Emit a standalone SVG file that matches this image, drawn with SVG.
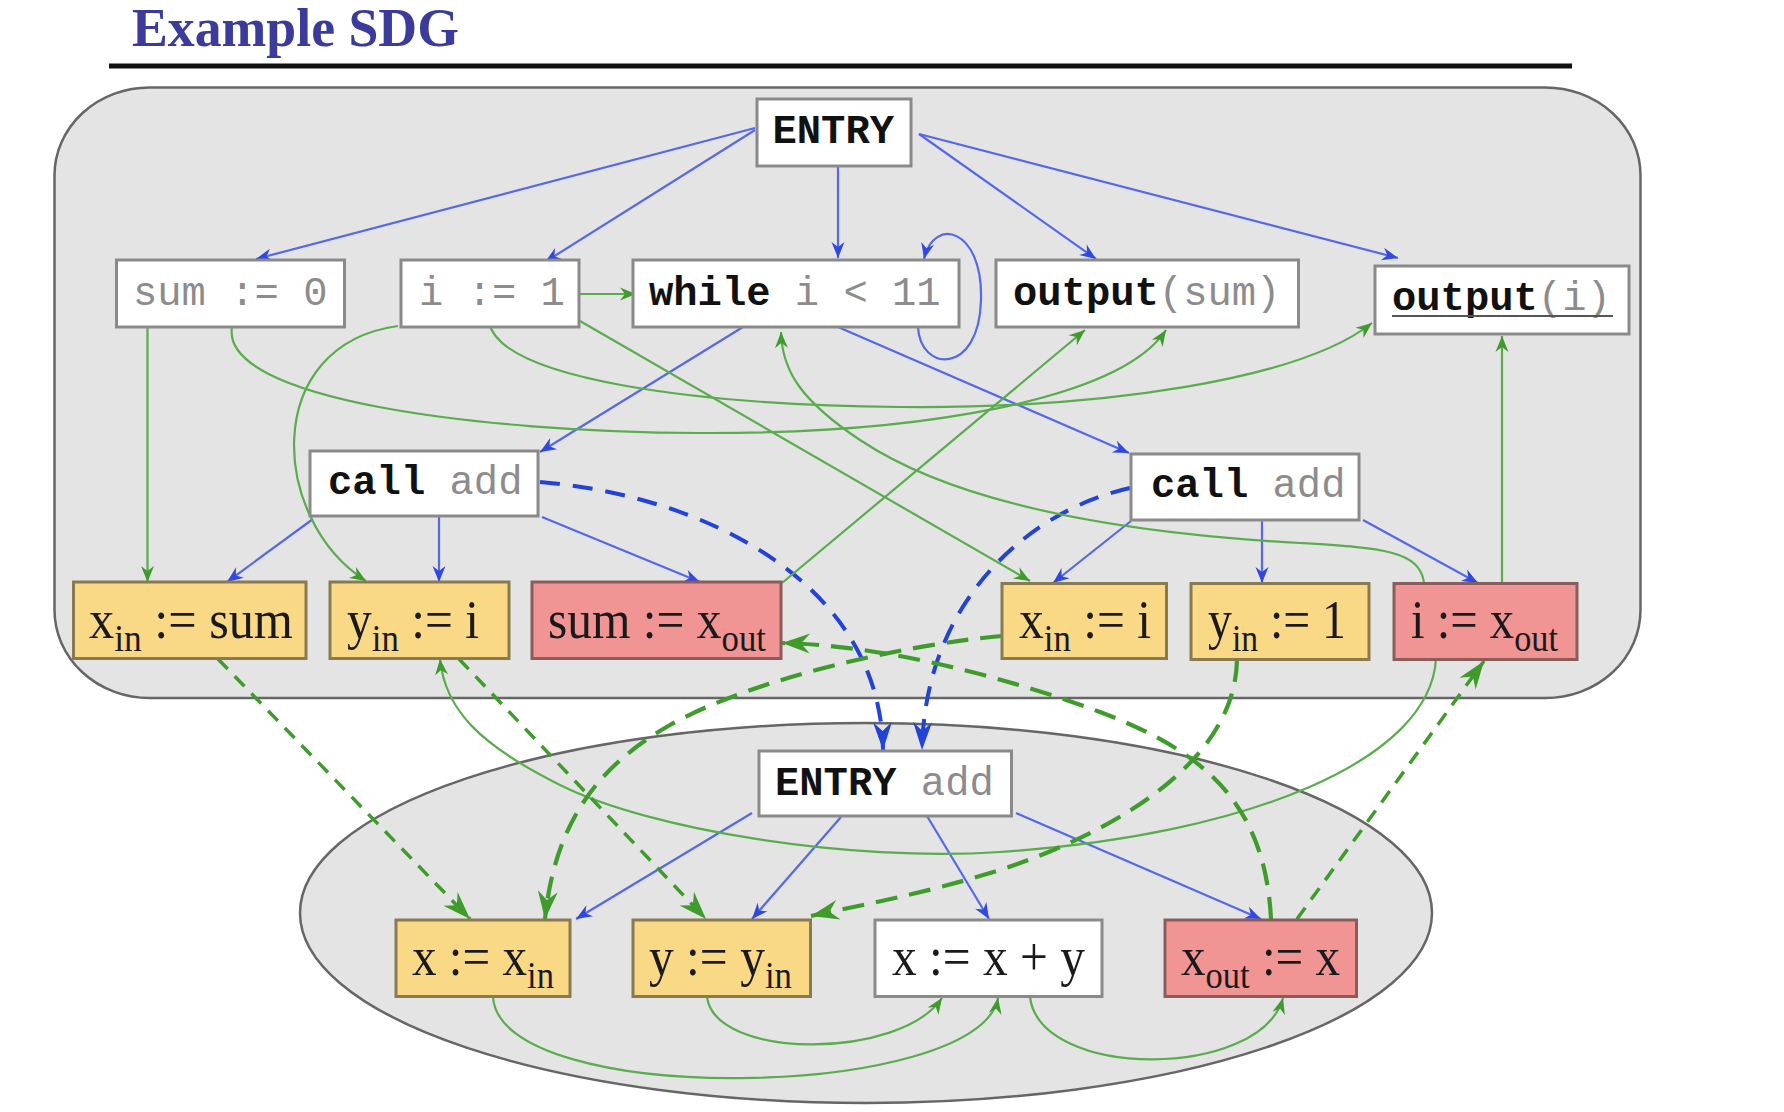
<svg xmlns="http://www.w3.org/2000/svg" width="1784" height="1112" viewBox="0 0 1784 1112">
<style>
.box{fill:#fff;stroke:#8a8a8a;stroke-width:3}
.yb{fill:#f9d886;stroke:#8a7a50;stroke-width:3}
.rb{fill:#f09494;stroke:#8a5c5c;stroke-width:3}
.mono{font-family:"Liberation Mono",monospace;font-size:40.5px}
.kw{font-weight:bold;fill:#111}
.g{fill:#8c8c8c}
.ser{font-family:"Liberation Serif","Times New Roman",serif;font-size:54px;fill:#1a1a1a}
.cb{fill:none;stroke:#5468ee;stroke-width:2.2;marker-end:url(#mb)}
.cd{fill:none;stroke:#2243d8;stroke-width:4;stroke-dasharray:20 13;marker-end:url(#mbB)}
.dg{fill:none;stroke:#5aac4e;stroke-width:2.2;marker-end:url(#mg)}
.pd{fill:none;stroke:#3f9c2c;stroke-width:3.5;stroke-dasharray:14 10;marker-end:url(#mgB)}
.pd2{fill:none;stroke:#3f9c2c;stroke-width:4.2;stroke-dasharray:22 12;marker-end:url(#mgB)}
</style>
<defs>
<marker id="mb" viewBox="-17 -8 18 16" refX="0" refY="0" markerWidth="18" markerHeight="16" markerUnits="userSpaceOnUse" orient="auto"><path d="M0,0 L-16,-6.5 L-11,0 L-16,6.5 Z" fill="#2f48e4"/></marker>
<marker id="mg" viewBox="-17 -8 18 16" refX="0" refY="0" markerWidth="18" markerHeight="16" markerUnits="userSpaceOnUse" orient="auto"><path d="M0,0 L-16,-6.5 L-11,0 L-16,6.5 Z" fill="#3f9c2c"/></marker>
<marker id="mbB" viewBox="-30 -11 31 22" refX="0" refY="0" markerWidth="31" markerHeight="22" markerUnits="userSpaceOnUse" orient="auto"><path d="M0,0 L-28,-9.5 L-19,0 L-28,9.5 Z" fill="#2243d8"/></marker>
<marker id="mgB" viewBox="-30 -11 31 22" refX="0" refY="0" markerWidth="31" markerHeight="22" markerUnits="userSpaceOnUse" orient="auto"><path d="M0,0 L-28,-10 L-19,0 L-28,10 Z" fill="#3f9c2c"/></marker>
</defs>
<rect width="1784" height="1112" fill="#fff"/>
<g id="title">
<text x="132" y="46" font-family="Liberation Serif,'Times New Roman',serif" font-weight="bold" font-size="54" fill="#3b3b9c" textLength="327" lengthAdjust="spacingAndGlyphs">Example SDG</text>
<line x1="109" y1="66" x2="1572" y2="66" stroke="#111" stroke-width="5"/>
</g>
<g id="regions">
<ellipse cx="866" cy="913" rx="566" ry="190" fill="#e4e4e4" stroke="#666" stroke-width="2.5"/>
<rect x="54.5" y="87.5" width="1586" height="610.5" rx="95" ry="88" fill="#e4e4e4" stroke="#666" stroke-width="2.5"/>
</g>
<g id="connectors">
<path class="cb" d="M755,128 L256,259"/>
<path class="cb" d="M755,130 L545,262"/>
<path class="cb" d="M838,166 L838,258"/>
<path class="cb" d="M919,134 L1096,259"/>
<path class="cb" d="M919,134 L1398,258"/>
<path class="cb" d="M743,327 L540,452"/>
<path class="cb" d="M838,327 L1129,453"/>
<path class="cb" d="M918,327 C920,372 979,376 981,300 C983,228 934,216 924,259"/>
<path class="cb" d="M313,519 L227,582"/>
<path class="cb" d="M439,516 L439,582"/>
<path class="cb" d="M542,517 L700,582"/>
<path class="cb" d="M1131,521 L1053,583"/>
<path class="cb" d="M1262,520 L1262,583"/>
<path class="cb" d="M1363,520 L1478,583"/>
<path class="cb" d="M752,813 L576,919"/>
<path class="cb" d="M841,817 L752,919"/>
<path class="cb" d="M927,816 L989,919"/>
<path class="cb" d="M1016,813 L1261,919"/>
<path class="cd" d="M540,482 C700,495 880,580 883,750"/>
<path class="cd" d="M1130,488 C1030,510 925,600 922,750"/>
<path class="dg" d="M147.5,327 L147.5,582"/>
<path class="dg" d="M232,327 C220,400 480,432 700,433 S1120,400 1166,330"/>
<path class="dg" d="M489,322 C500,380 700,405 900,407 S1300,380 1372,323"/>
<path class="dg" d="M398,326 C260,345 270,520 366,581"/>
<path class="dg" d="M580,321 L1030,581"/>
<path class="dg" d="M579,294 L636,294"/>
<path class="dg" d="M1424,583 C1420,550 1380,548 1300,543 C1100,532 950,500 860,440 C800,400 782,370 781,332"/>
<path class="dg" d="M782,583 L1085,330"/>
<path class="dg" d="M1502,583 L1502,336"/>
<path class="dg" d="M1436,659 C1430,760 1250,835 1000,852 C850,862 650,830 560,785 C480,745 445,710 440,659"/>
<path class="dg" d="M493,997 C500,1110 980,1100 998,998"/>
<path class="dg" d="M707,997 C715,1060 900,1060 942,998"/>
<path class="dg" d="M1030,997 C1040,1080 1260,1080 1283,998"/>
<path class="pd" d="M218,659 L470,919"/>
<path class="pd" d="M459,659 L706,919"/>
<path class="pd2" d="M1002,636 C900,645 750,680 670,725 C600,765 555,820 545,919"/>
<path class="pd2" d="M1237,660 C1235,760 1120,830 1000,870 C920,895 860,905 811,916"/>
<path class="pd2" d="M1271,919 C1265,800 1200,750 1100,712 C1000,675 880,645 782,643"/>
<path class="pd" d="M1297,919 L1484,661"/>
</g>
<g id="n-entry"><rect class="box" x="757" y="99" width="154" height="67"/><text class="mono kw" x="772.5" y="143">ENTRY</text></g>
<g id="n-sum0"><rect class="box" x="116.5" y="260" width="228" height="67"/><text class="mono g" x="133" y="305">sum := 0</text></g>
<g id="n-i1"><rect class="box" x="401" y="260" width="178" height="67"/><text class="mono g" x="419" y="305">i := 1</text></g>
<g id="n-while"><rect class="box" x="633" y="260" width="326" height="67"/><text class="mono" x="649" y="305"><tspan class="kw">while</tspan><tspan class="g"> i &lt; 11</tspan></text></g>
<g id="n-outsum"><rect class="box" x="996" y="260" width="302.5" height="67"/><text class="mono" x="1013" y="305"><tspan class="kw">output</tspan><tspan class="g">(sum)</tspan></text></g>
<g id="n-outi"><rect class="box" x="1375" y="266" width="254" height="68"/><text class="mono" x="1392" y="310"><tspan class="kw">output</tspan><tspan class="g">(i)</tspan></text><line x1="1392" y1="316" x2="1613" y2="316" stroke="#555" stroke-width="2"/></g>
<g id="n-call1"><rect class="box" x="310" y="451" width="228" height="65"/><text class="mono" x="328" y="494"><tspan class="kw">call</tspan><tspan class="g"> add</tspan></text></g>
<g id="n-call2"><rect class="box" x="1131" y="454" width="228" height="66"/><text class="mono" x="1151" y="497"><tspan class="kw">call</tspan><tspan class="g"> add</tspan></text></g>
<g id="n-xin-sum"><rect class="yb" x="73.5" y="582" width="232.5" height="76.5"/><text class="ser" x="89" y="637.5" textLength="204" lengthAdjust="spacingAndGlyphs">x<tspan font-size="38" dy="13">in</tspan><tspan dy="-13"> := sum</tspan></text></g>
<g id="n-yin-i"><rect class="yb" x="330" y="582" width="179" height="76.5"/><text class="ser" x="347" y="637.5" textLength="132" lengthAdjust="spacingAndGlyphs">y<tspan font-size="38" dy="13">in</tspan><tspan dy="-13"> := i</tspan></text></g>
<g id="n-sum-xout"><rect class="rb" x="532" y="582" width="249" height="76.5"/><text class="ser" x="548" y="637.5" textLength="218" lengthAdjust="spacingAndGlyphs">sum := x<tspan font-size="38" dy="13">out</tspan></text></g>
<g id="n-xin-i"><rect class="yb" x="1002" y="583.5" width="164.5" height="75"/><text class="ser" x="1019" y="638" textLength="132" lengthAdjust="spacingAndGlyphs">x<tspan font-size="38" dy="13">in</tspan><tspan dy="-13"> := i</tspan></text></g>
<g id="n-yin-1"><rect class="yb" x="1191" y="583.5" width="178" height="76"/><text class="ser" x="1208" y="638" textLength="138" lengthAdjust="spacingAndGlyphs">y<tspan font-size="38" dy="13">in</tspan><tspan dy="-13"> := 1</tspan></text></g>
<g id="n-i-xout"><rect class="rb" x="1394" y="583.5" width="183" height="76"/><text class="ser" x="1411" y="638" textLength="147" lengthAdjust="spacingAndGlyphs">i := x<tspan font-size="38" dy="13">out</tspan></text></g>
<g id="n-entry-add"><rect class="box" x="759" y="751" width="252.5" height="65"/><text class="mono" x="775" y="795"><tspan class="kw">ENTRY</tspan><tspan class="g"> add</tspan></text></g>
<g id="n-x-xin"><rect class="yb" x="396" y="920" width="174" height="76.5"/><text class="ser" x="412" y="975" textLength="142" lengthAdjust="spacingAndGlyphs">x := x<tspan font-size="38" dy="13">in</tspan></text></g>
<g id="n-y-yin"><rect class="yb" x="633" y="920" width="177.5" height="76.5"/><text class="ser" x="649" y="975" textLength="143" lengthAdjust="spacingAndGlyphs">y := y<tspan font-size="38" dy="13">in</tspan></text></g>
<g id="n-x-xy"><rect class="box" x="875" y="920" width="227" height="76.5"/><text class="ser" x="892" y="975" textLength="193" lengthAdjust="spacingAndGlyphs">x := x + y</text></g>
<g id="n-xout-x"><rect class="rb" x="1165" y="920" width="191.5" height="76.5"/><text class="ser" x="1181" y="975" textLength="159" lengthAdjust="spacingAndGlyphs">x<tspan font-size="38" dy="13">out</tspan><tspan dy="-13"> := x</tspan></text></g>
</svg>
